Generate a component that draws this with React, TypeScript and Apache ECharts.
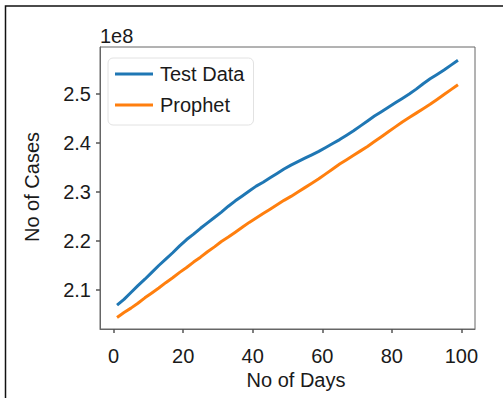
import React, { useEffect, useRef } from "react";
import * as echarts from "echarts";

const days = [
  1, 3, 5, 7, 9, 11, 13, 15, 17, 19, 21, 23, 25, 27, 29, 31, 33, 35, 37, 39,
  41, 43, 45, 47, 49, 51, 53, 55, 57, 59, 61, 63, 65, 67, 69, 71, 73, 75, 77, 79,
  81, 83, 85, 87, 89, 91, 93, 95, 97, 99,
];

// values in units of 1e8
const testData = [
  2.069, 2.081, 2.095, 2.109, 2.122, 2.136, 2.150, 2.163, 2.176, 2.190,
  2.203, 2.214, 2.226, 2.237, 2.248, 2.259, 2.271, 2.282, 2.292, 2.302,
  2.312, 2.320, 2.329, 2.338, 2.347, 2.355, 2.362, 2.369, 2.376, 2.383,
  2.391, 2.399, 2.407, 2.416, 2.425, 2.435, 2.445, 2.455, 2.464, 2.473,
  2.482, 2.491, 2.500, 2.510, 2.521, 2.531, 2.540, 2.549, 2.559, 2.569,
];

const prophet = [
  2.044, 2.054, 2.063, 2.073, 2.084, 2.094, 2.104, 2.115, 2.125, 2.136,
  2.146, 2.157, 2.167, 2.178, 2.188, 2.199, 2.208, 2.218, 2.228, 2.238,
  2.247, 2.256, 2.265, 2.274, 2.283, 2.291, 2.300, 2.309, 2.318, 2.327,
  2.337, 2.347, 2.357, 2.366, 2.375, 2.384, 2.393, 2.403, 2.413, 2.423,
  2.433, 2.443, 2.452, 2.461, 2.470, 2.479, 2.489, 2.499, 2.509, 2.519,
];

const xTicks = [0, 20, 40, 60, 80, 100];
const yTicks = [2.1, 2.2, 2.3, 2.4, 2.5];

const FONT = "'Liberation Sans', Arial, sans-serif";
const TXT = "#1a1a1a";

export default function App() {
  const ref = useRef<HTMLDivElement>(null);
  useEffect(() => {
    if (!ref.current) return;
    const chart = echarts.init(ref.current, undefined, { renderer: "svg" });
    chart.setOption({
      animation: false,
      backgroundColor: "#ffffff",
      textStyle: { fontFamily: FONT },
      grid: {
        left: 100,
        top: 47,
        right: 28,
        bottom: 69,
        show: true,
        borderColor: "#666",
        borderWidth: 1,
        containLabel: false,
      },
      legend: {
        orient: "vertical",
        left: 108,
        top: 58,
        icon: "rect",
        itemWidth: 38,
        itemHeight: 3,
        itemGap: 11,
        padding: [6, 9, 10, 7],
        backgroundColor: "rgba(255,255,255,0.9)",
        borderColor: "#e2e2e2",
        borderWidth: 1,
        borderRadius: 5,
        textStyle: { fontSize: 20, color: TXT, fontFamily: FONT, padding: [0, 0, 0, 2] },
        data: ["Test Data", "Prophet"],
      },
      xAxis: {
        type: "value",
        min: -3.9,
        max: 103.9,
        splitLine: { show: false },
        axisLine: { show: true, onZero: false, lineStyle: { color: "#666", width: 1 } },
        axisTick: {
          show: true,
          length: 4,
          customValues: xTicks,
          lineStyle: { color: "#555", width: 1.5 },
        },
        axisLabel: {
          customValues: xTicks,
          fontSize: 20,
          color: TXT,
          margin: 17,
          fontFamily: FONT,
        },
      },
      yAxis: {
        type: "value",
        min: 2.0204,
        max: 2.596,
        splitLine: { show: false },
        axisLine: { show: true, onZero: false, lineStyle: { color: "#666", width: 1 } },
        axisTick: {
          show: true,
          length: 4,
          customValues: yTicks,
          lineStyle: { color: "#555", width: 1.5 },
        },
        axisLabel: {
          customValues: yTicks,
          fontSize: 20,
          color: TXT,
          margin: 9,
          fontFamily: FONT,
          formatter: (v: number) => v.toFixed(1),
        },
      },
      series: [
        {
          name: "Test Data",
          type: "line",
          showSymbol: false,
          symbol: "none",
          color: "#1f77b4",
          lineStyle: { width: 3, color: "#1f77b4" },
          data: days.map((d, i) => [d, testData[i]]),
        },
        {
          name: "Prophet",
          type: "line",
          showSymbol: false,
          symbol: "none",
          color: "#ff7f0e",
          lineStyle: { width: 3, color: "#ff7f0e" },
          data: days.map((d, i) => [d, prophet[i]]),
        },
      ],
      graphic: [
        {
          type: "rect",
          shape: { x: 5.5, y: 6, width: 700, height: 700 },
          style: { fill: "none", stroke: "#111", lineWidth: 1.5 },
          silent: true,
        },
        {
          type: "text",
          x: 100,
          y: 36,
          style: {
            text: "1e8",
            fontSize: 20,
            fontFamily: FONT,
            fill: TXT,
            align: "left",
            verticalAlign: "middle",
          },
        },
        {
          type: "text",
          x: 296,
          y: 380,
          style: {
            text: "No of Days",
            fontSize: 20,
            fontFamily: FONT,
            fill: TXT,
            align: "center",
            verticalAlign: "middle",
          },
        },
        {
          type: "text",
          x: 32,
          y: 187,
          rotation: Math.PI / 2,
          style: {
            text: "No of Cases",
            fontSize: 20,
            fontFamily: FONT,
            fill: TXT,
            align: "center",
            verticalAlign: "middle",
          },
        },
      ],
    });
    return () => chart.dispose();
  }, []);
  return (
    <div
      ref={ref}
      style={{ position: "fixed", left: 0, top: 0, width: 503, height: 398 }}
    />
  );
}
